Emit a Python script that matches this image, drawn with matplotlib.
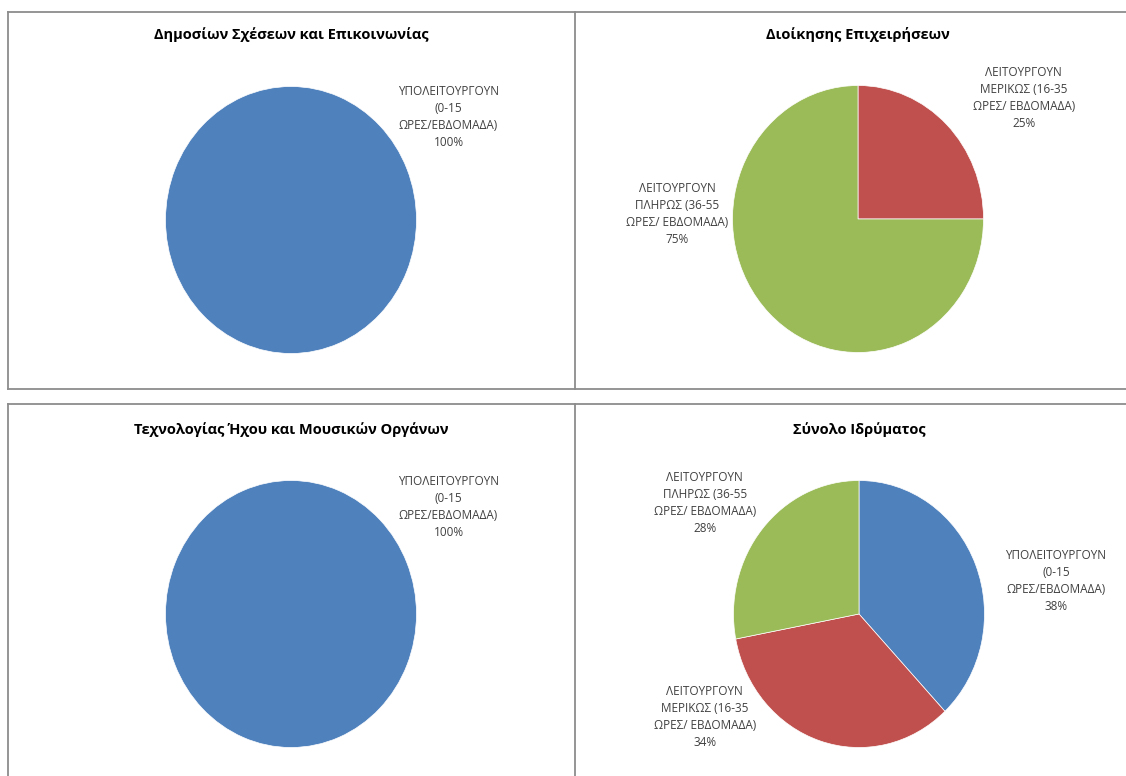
import matplotlib
matplotlib.use("Agg")
import matplotlib.pyplot as plt
from matplotlib.lines import Line2D

plt.rcParams['font.family'] = ['Open Sans', 'DejaVu Sans']

# categories (same order in every chart)
categories = ['ΥΠΟΛΕΙΤΟΥΡΓΟΥΝ\n(0-15\nΩΡΕΣ/ΕΒΔΟΜΑΔΑ)',
              'ΛΕΙΤΟΥΡΓΟΥΝ\nΜΕΡΙΚΩΣ (16-35\nΩΡΕΣ/ ΕΒΔΟΜΑΔΑ)',
              'ΛΕΙΤΟΥΡΓΟΥΝ\nΠΛΗΡΩΣ (36-55\nΩΡΕΣ/ ΕΒΔΟΜΑΔΑ)']
colors = ['#4F81BD', '#C0504D', '#9BBB59']

titles = ['Δημοσίων Σχέσεων και Επικοινωνίας',
          'Διοίκησης Επιχειρήσεων',
          'Τεχνολογίας Ήχου και Μουσικών Οργάνων',
          'Σύνολο Ιδρύματος']

dimosion = [100, 0, 0]
dioikisi = [0, 25, 75]
texnologia = [100, 0, 0]
synolo = [38, 34, 28]

# pie centres in pixels, and where the labels sit (in pie radius units)
centres = [(291, 220), (858, 219), (291, 614), (859, 614)]
label_pos = [
    {0: (1.256, 0.774)},
    {1: (1.32, 0.91), 2: (-1.44, 0.04)},
    {0: (1.256, 0.80)},
    {0: (1.57, 0.25), 1: (-1.23, -0.77), 2: (-1.23, 0.83)},
]

W, H = 1126, 776
fig = plt.figure(figsize=(W / 100, H / 100), dpi=100)

rx, ry = 125.5, 133.5
half_w, half_h = 250, 170

for k, values in enumerate([dimosion, dioikisi, texnologia, synolo]):
    cx, cy = centres[k]
    ax = fig.add_axes([(cx - half_w) / W, (H - cy - half_h) / H,
                       2 * half_w / W, 2 * half_h / H])
    idx = [i for i, v in enumerate(values) if v > 0]
    ax.pie([values[i] for i in idx], colors=[colors[i] for i in idx],
           startangle=90, counterclock=False,
           wedgeprops=dict(edgecolor='white', linewidth=0.5))
    ax.set_aspect('auto')
    ax.set_xlim(-half_w / rx, half_w / rx)
    ax.set_ylim(-half_h / ry, half_h / ry)
    ax.axis('off')
    for i in idx:
        x, y = label_pos[k][i]
        ax.text(x, y, categories[i] + '\n' + str(values[i]) + '%',
                ha='center', va='center', fontsize=8.5, color='#404040',
                linespacing=1.4)
    fig.text(cx / W, 1 - (35 if cy < 400 else 430) / H, titles[k],
             ha='center', va='center', fontsize=10.5, fontweight='bold',
             color='black')

# panel frames
def hline(y, x0, x1):
    fig.add_artist(Line2D([x0 / W, x1 / W], [1 - y / H, 1 - y / H],
                          color='#8c8c8c', linewidth=1.3))

def vline(x, y0, y1):
    fig.add_artist(Line2D([x / W, x / W], [1 - y0 / H, 1 - y1 / H],
                          color='#8c8c8c', linewidth=1.3))

hline(12, 8, W)
hline(389, 8, W)
hline(404, 8, W)
vline(8, 12, 389)
vline(575, 12, 389)
vline(8, 404, H)
vline(575, 404, H)

fig.savefig('out.png', dpi=100, facecolor='white')
